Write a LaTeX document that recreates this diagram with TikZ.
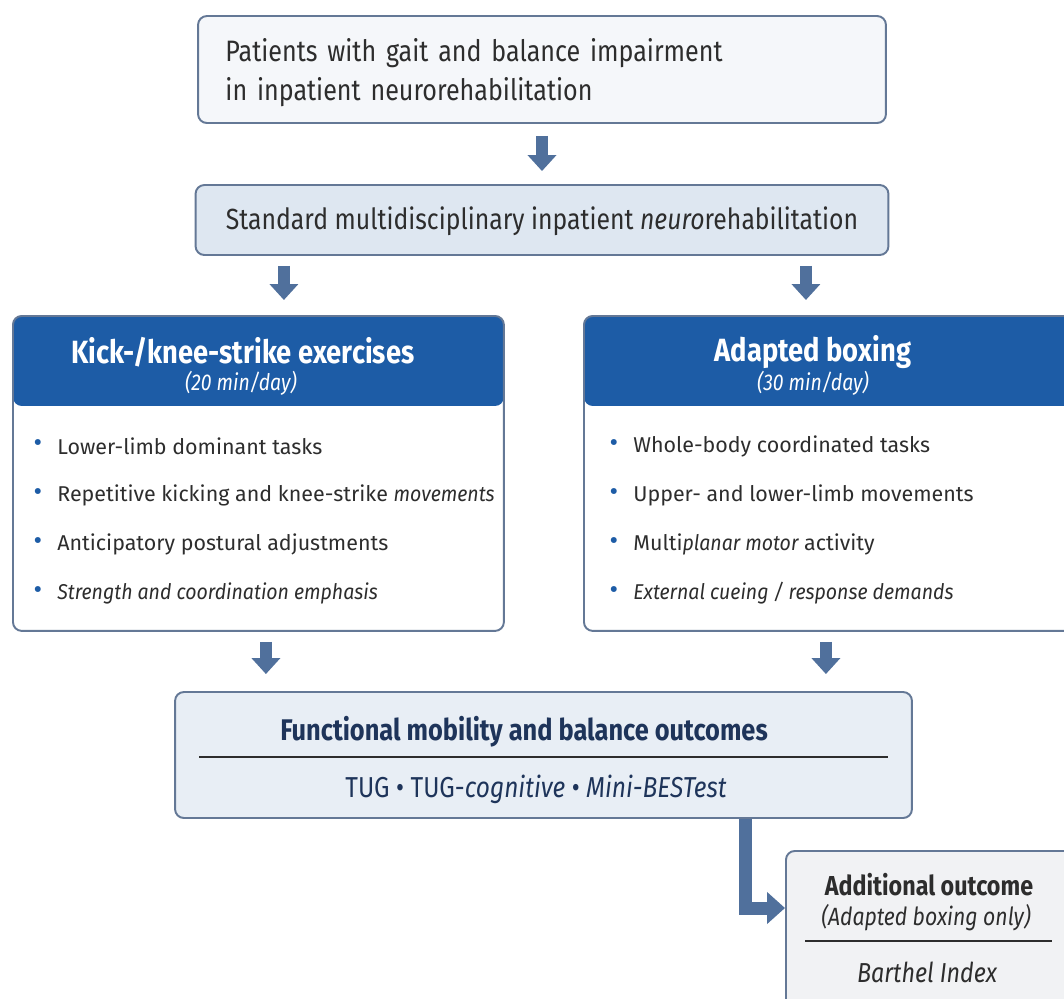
\documentclass[tikz,border=0pt]{standalone}
\usepackage{fontspec}
\setmainfont{Fira Sans}
\newfontfamily\condfont{Fira Sans}[FakeStretch=0.85]
\newfontfamily\narrowfont{Fira Sans}[FakeStretch=0.91]
\newcommand{\nit}[1]{{\narrowfont\itshape #1}}
\usepackage{xcolor}
\usetikzlibrary{arrows.meta,positioning,calc}

\definecolor{hdrblue}{RGB}{29,92,166}
\definecolor{arrowblue}{RGB}{80,112,156}
\definecolor{boxline}{RGB}{100,120,150}
\definecolor{topfill}{RGB}{245,247,250}
\definecolor{stdfill}{RGB}{222,231,241}
\definecolor{outfill}{RGB}{232,238,245}
\definecolor{addfill}{RGB}{241,242,244}
\definecolor{navytext}{RGB}{30,52,90}
\definecolor{bodytext}{RGB}{45,45,45}

\tikzset{
  box/.style={draw=boxline, line width=1.1pt, rounded corners=5pt, inner sep=0pt},
  armbox/.style={box, fill=white, anchor=north west, minimum width=9.82cm, minimum height=6.3cm,
    path picture={\fill[hdrblue] (path picture bounding box.north west) rectangle ([yshift=-1.8cm]path picture bounding box.north east);}},
  blockarrow/.style={draw=arrowblue, line width=0.24cm, -{Triangle[width=0.56cm,length=0.32cm]}},
  hdrtext/.style={inner sep=0pt, text=white, font=\condfont\bfseries\fontsize{18.3}{22}\selectfont},
  subtext/.style={inner sep=0pt, text=white, font=\condfont\itshape\fontsize{13}{16}\selectfont},
  item/.style={anchor=west, inner sep=0pt, text=bodytext, font=\fontsize{12.2}{14}\selectfont},
  dot/.style={inner sep=0pt, text=hdrblue, font=\fontsize{15}{16}\selectfont},
  rule/.style={draw=bodytext, line width=0.6pt},
}

\begin{document}
\begin{tikzpicture}[x=0.02cm,y=-0.02cm]
\clip (0,0) rectangle (1064,998);
\fill[white] (0,0) rectangle (1064,998);

% Population and standard care
\node[box, fill=topfill, minimum width=13.76cm, minimum height=2.14cm] (pat) at (542,69.5) {};
\node[anchor=west, inner sep=0pt, text width=12.64cm, align=left, text=bodytext,
  font=\condfont\fontsize{16.8}{21.8}\selectfont] (pattext) at ($(pat.west)+(28,3)$)
  {Patients with gait and balance impairment\\in inpatient neurorehabilitation};
\node[box, fill=stdfill, minimum width=13.86cm, minimum height=1.4cm] (std) at (542,220) {};
\node[inner sep=0pt, text=bodytext, font=\condfont\fontsize{16.6}{20}\selectfont] (stdtext)
  at ($(std.center)+(0,1)$) {Standard multidisciplinary inpatient \textit{neuro}rehabilitation};
\draw[blockarrow] ([yshift=-0.24cm]pat.south) -- ([yshift=0.26cm]std.north);

% Intervention arms
\node[armbox] (kick) at (12,315) {};
\node[armbox] (boxing) at (583,315) {};
\node[hdrtext] (kickhead) at ($(kick.north west)+(231,37)$) {Kick-/knee-strike exercises};
\node[subtext] (kicksub) at ($(kick.north west)+(229,68)$) {(20 min/day)};
\node[hdrtext] (boxinghead) at ($(boxing.north west)+(230,37)$) {Adapted boxing};
\node[subtext] (boxingsub) at ($(boxing.north west)+(230,68)$) {(30 min/day)};

\foreach \txt [count=\i, evaluate=\i as \yy using 131+49*(\i-1)] in
  {{Lower-limb dominant tasks},
   {Repetitive kicking and knee-strike \nit{movements}},
   {Anticipatory postural adjustments},
   {\nit{Strength and coordination emphasis}}} {
  \node[dot] (kickdot\i) at ($(kick.north west)+(26,\yy)$) {•};
  \node[item] (kickitem\i) at ($(kick.north west)+(45,\yy)$) {\txt};
}
\foreach \txt [count=\i, evaluate=\i as \yy using 131+49*(\i-1)] in
  {{Whole-body coordinated tasks},
   {Upper- and lower-limb movements},
   {Multi\nit{planar motor} activity},
   {\nit{External cueing / response demands}}} {
  \node[dot] (boxingdot\i) at ($(boxing.north west)+(31,\yy)$) {•};
  \node[item] (boxingitem\i) at ($(boxing.north west)+(50,\yy)$) {\txt};
}

\draw[blockarrow] ($(std.south -| kick.north)+(25.5,10)$) -- ($(kick.north)+(25.5,-15)$);
\draw[blockarrow] ($(std.south -| boxing.north)+(-23.5,10)$) -- ($(boxing.north)+(-23.5,-15)$);

% Outcomes
\node[box, fill=outfill, minimum width=14.74cm, minimum height=2.52cm] (out) at (543.5,755) {};
\node[inner sep=0pt, text=navytext, font=\condfont\bfseries\fontsize{17}{20}\selectfont] (outtitle)
  at ($(out.north)+(-19.5,41)$) {Functional mobility and balance outcomes};
\draw[rule] ($(out.west)+(25,2)$) -- ($(out.east)+(-25,2)$);
\node[inner sep=0pt, text=navytext, font=\condfont\fontsize{16.4}{19}\selectfont] (tug)
  at ($(out.north)+(-7.5,98)$) {TUG • TUG-\textit{cognitive} • \textit{Mini-BESTest}};

\draw[blockarrow] ($(kick.south)+(7.5,10)$) -- ($(kick.south |- out.north)+(7.5,-17)$);
\draw[blockarrow] ($(boxing.south)+(-3.5,10)$) -- ($(boxing.south |- out.north)+(-3.5,-17)$);

% Additional outcome
\node[box, fill=addfill, anchor=north west, minimum width=6cm, minimum height=4cm] (add) at (785,850) {};
\node[inner sep=0pt, text=bodytext, font=\condfont\bfseries\fontsize{15.6}{18}\selectfont] (addtitle)
  at ($(add.north west)+(144,35)$) {Additional outcome};
\node[inner sep=0pt, text=bodytext, font=\condfont\itshape\fontsize{14.2}{17}\selectfont] (addsub)
  at ($(add.north west)+(141,68)$) {(Adapted boxing only)};
\draw[rule] ($(add.north west)+(20,91)$) -- ($(add.north west)+(267,91)$);
\node[inner sep=0pt, text=bodytext, font=\condfont\itshape\fontsize{15.6}{18}\selectfont] (barthel)
  at ($(add.north west)+(142,122)$) {Barthel Index};
\draw[blockarrow, line width=0.26cm, line join=miter, -{Triangle[width=0.62cm,length=0.36cm]}]
  ($(out.south)+(201.5,0)$) |- ($(add.north west)+(0,58)$);
\end{tikzpicture}
\end{document}
